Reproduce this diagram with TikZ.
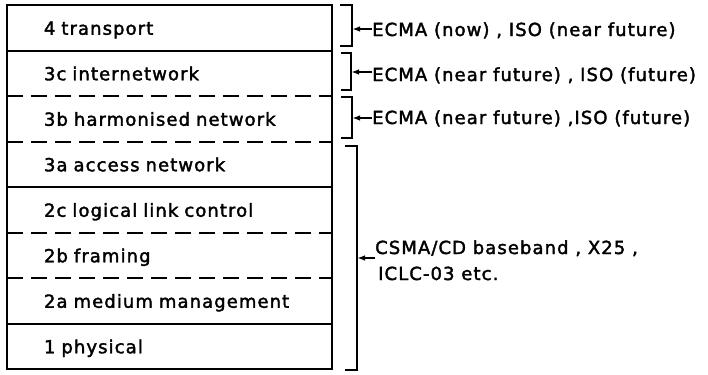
\documentclass[tikz,border=0pt]{standalone}
\usepackage{fontspec}
\newfontfamily\plotfont[FakeBold=2,LetterSpace=6]{DejaVu Sans}
\usetikzlibrary{arrows.meta}
\begin{document}
\begin{tikzpicture}[x=1bp,y=-1bp,
  every node/.style={font=\plotfont\fontsize{18bp}{26bp}\selectfont, inner sep=0pt},
  layer/.style={minimum width=325bp, minimum height=45.5bp, text width=251bp, inner xsep=37bp, inner ysep=0pt, text height=14bp, text depth=0bp, align=left, anchor=center},
  boxline/.style={line width=1.6bp},
  dashline/.style={line width=1.6bp, dash pattern=on 16bp off 8bp},
  brk/.style={line width=1.5bp},
  arr/.style={line width=1.8bp, -{Latex[length=8bp,width=5.5bp]}},
  note/.style={anchor=west, text height=12bp, text depth=0bp}]
\fill[white] (0,0) rectangle (708,374);
\useasboundingbox (0,0) rectangle (708,374);
% layers
\node[layer] (L4)  at (169.5, 27.75) {\mbox{4 transport}};
\node[layer] (L3c) at (169.5, 73.25) {\mbox{3c internetwork}};
\node[layer] (L3b) at (169.5,118.75) {\mbox{3b harmonised network}};
\node[layer] (L3a) at (169.5,164.25) {\mbox{3a access network}};
\node[layer] (L2c) at (169.5,209.75) {\mbox{2c logical link control}};
\node[layer] (L2b) at (169.5,255.25) {\mbox{2b framing}};
\node[layer] (L2a) at (169.5,300.75) {\mbox{2a medium management}};
\node[layer] (L1)  at (169.5,346.25) {\mbox{1 physical}};
\draw[boxline] (L4.north west) rectangle (L1.south east);
\draw[boxline] (L4.south west) -- (L4.south east);
\draw[dashline] (L3c.south west) -- (L3c.south east);
\draw[dashline] (L3b.south west) -- (L3b.south east);
\draw[boxline] (L3a.south west) -- (L3a.south east);
\draw[dashline] (L2c.south west) -- (L2c.south east);
\draw[dashline] (L2b.south west) -- (L2b.south east);
\draw[boxline] (L2a.south west) -- (L2a.south east);
% brackets
\coordinate (b1t) at (352,5);   \coordinate (b1b) at (352,46);  \coordinate (b1) at (352,29);
\coordinate (b2t) at (351,53);  \coordinate (b2b) at (351,90);  \coordinate (b2) at (351,72);
\coordinate (b3t) at (352,97);  \coordinate (b3b) at (352,138); \coordinate (b3) at (352,118);
\coordinate (b4t) at (357,146); \coordinate (b4b) at (357,370); \coordinate (b4) at (357,258);
\draw[brk] ([xshift=-12bp]b1t) -- (b1t) -- (b1b) -- ([xshift=-12bp]b1b);
\draw[brk] ([xshift=-10bp]b2t) -- (b2t) -- (b2b) -- ([xshift=-10bp]b2b);
\draw[brk] ([xshift=-11bp]b3t) -- (b3t) -- (b3b) -- ([xshift=-11bp]b3b);
\draw[brk] ([xshift=-12bp]b4t) -- (b4t) -- (b4b) -- ([xshift=-12bp]b4b);
% notes
\node[note] (a1) at (372,30) {ECMA (now) , ISO (near future)};
\node[note] (a2) at (372,75) {ECMA (near future) , ISO (future)};
\node[note] (a3) at (372,118) {ECMA (near future) ,ISO (future)};
\node[note] (a4) at (375,248) {CSMA/CD baseband , X25 ,};
\node[note] (a4b) at (378,274) {ICLC-03 etc.};
\draw[arr] (a1.west |- b1) -- (b1);
\draw[arr] (a2.west |- b2) -- (b2);
\draw[arr] (a3.west |- b3) -- (b3);
\draw[arr] (a4.west |- b4) -- (b4);
\end{tikzpicture}
\end{document}
